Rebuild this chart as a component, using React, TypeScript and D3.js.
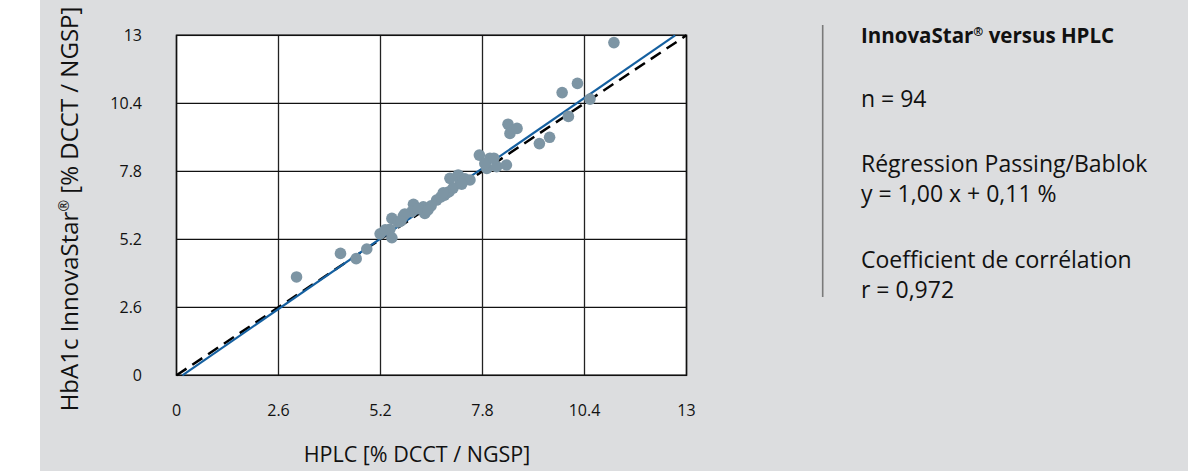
import React from "react";
import * as d3 from "d3";

// HPLC (x) vs InnovaStar (y), % DCCT/NGSP
const hplc = [3.06, 4.18, 4.58, 4.85, 5.19, 5.49, 5.44, 5.49, 5.78, 6.04, 6.0, 6.29, 6.33, 6.63, 6.83, 6.95, 6.97, 7.18, 7.23, 7.48, 7.72, 7.91, 7.99, 8.16, 8.41, 8.45, 8.5, 8.68, 9.25, 9.51, 9.83, 9.99, 10.22, 10.54, 11.15, 5.65, 5.82, 6.16, 6.49, 6.74, 7.05, 7.35, 7.86, 8.09, 5.32, 5.72, 6.41, 6.89, 6.8, 7.27];
const innovastar = [3.76, 4.66, 4.46, 4.83, 5.41, 6.0, 5.58, 5.26, 6.09, 6.54, 6.26, 6.44, 6.19, 6.7, 6.89, 7.02, 7.53, 7.66, 7.4, 7.47, 8.42, 7.91, 8.3, 7.98, 8.04, 9.6, 9.25, 9.44, 8.86, 9.1, 10.81, 9.9, 11.16, 10.56, 12.72, 5.86, 6.17, 6.37, 6.48, 6.82, 7.16, 7.51, 8.1, 8.3, 5.56, 5.9, 6.32, 6.97, 6.98, 7.31];

const tickValues = [0, 2.6, 5.2, 7.8, 10.4, 13];
const tickLabels = ["0", "2.6", "5.2", "7.8", "10.4", "13"];

// regression line (as drawn) and identity line
const regressionX = [0.15, 12.71];
const regressionY = [0, 13];
const identityX = [0, 13];
const identityY = [0, 13];

const xTitle = "HPLC [% DCCT / NGSP]";
const yTitleA = "HbA1c InnovaStar";
const yTitleB = " [% DCCT / NGSP]";
const panelTitleA = "InnovaStar";
const panelTitleB = " versus HPLC";
const panelLines = [
  ["n = 94"],
  ["Régression Passing/Bablok", "y = 1,00 x + 0,11 %"],
  ["Coefficient de corrélation", "r = 0,972"],
];

const FONT = "'Open Sans', 'Noto Sans', sans-serif";

export default function App() {
  const x = d3.scaleLinear().domain([0, 13]).range([176.5, 686.5]);
  const y = d3.scaleLinear().domain([0, 13]).range([375.3, 35.3]);
  const line = d3
    .line<[number, number]>()
    .x((d) => x(d[0]))
    .y((d) => y(d[1]));
  const reg: [number, number][] = regressionX.map((v, i) => [v, regressionY[i]]);
  const ident: [number, number][] = identityX.map((v, i) => [v, identityY[i]]);

  const groupTops = [107, 171.5, 267.5];

  return (
    <svg
      width={1188}
      height={471}
      style={{ position: "absolute", left: 0, top: 0, display: "block" }}
      fontFamily={FONT}
    >
      <rect x={40} y={0} width={1148} height={471} fill="#dcdddf" />
      <rect
        x={x(0)}
        y={y(13)}
        width={x(13) - x(0)}
        height={y(0) - y(13)}
        fill="#ffffff"
      />
      {tickValues.map((t, i) => (
        <g key={"g" + i}>
          <line x1={x(t)} x2={x(t)} y1={y(0)} y2={y(13)} stroke="#222" strokeWidth={1.3} />
          <line x1={x(0)} x2={x(13)} y1={y(t)} y2={y(t)} stroke="#111" strokeWidth={1.3} />
        </g>
      ))}
      <rect
        x={x(0)}
        y={y(13)}
        width={x(13) - x(0)}
        height={y(0) - y(13)}
        fill="none"
        stroke="#111"
        strokeWidth={1.5}
      />
      <path d={line(ident) || ""} stroke="#000" strokeWidth={2.5} strokeDasharray="12 7" fill="none" />
      <path d={line(reg) || ""} stroke="#1560a0" strokeWidth={2.2} fill="none" />
      {hplc.map((v, i) => (
        <circle key={"p" + i} cx={x(v)} cy={y(innovastar[i])} r={5.8} fill="#7d95a4" />
      ))}
      {tickValues.map((t, i) => (
        <text
          key={"yl" + i}
          x={142}
          y={y(t)}
          textAnchor="end"
          dominantBaseline="central"
          fontSize={16}
          fill="#111"
        >
          {tickLabels[i]}
        </text>
      ))}
      {tickValues.map((t, i) => (
        <text
          key={"xl" + i}
          x={x(t)}
          y={409.5}
          textAnchor="middle"
          dominantBaseline="central"
          fontSize={16}
          fill="#111"
        >
          {tickLabels[i]}
        </text>
      ))}
      <text x={417} y={461.5} textAnchor="middle" fontSize={21.5} fill="#111">
        {xTitle}
      </text>
      <text
        transform="translate(78,209) rotate(-90)"
        textAnchor="middle"
        fontSize={24}
        fill="#111"
      >
        {yTitleA}
        <tspan fontSize={14} dy={-9}>®</tspan>
        <tspan dy={9}>{yTitleB}</tspan>
      </text>
      <line x1={822.7} x2={822.7} y1={25} y2={297} stroke="#7a7a7a" strokeWidth={1.6} />
      <text x={861} y={43.3} fontSize={20.5} fontWeight="bold" fill="#111">
        {panelTitleA}
        <tspan fontSize={12} dy={-7}>®</tspan>
        <tspan dy={7}>{panelTitleB}</tspan>
      </text>
      {panelLines.map((grp, gi) =>
        grp.map((s, li) => (
          <text key={gi + "-" + li} x={861} y={groupTops[gi] + li * 30} fontSize={23} fill="#111">
            {s}
          </text>
        ))
      )}
    </svg>
  );
}
